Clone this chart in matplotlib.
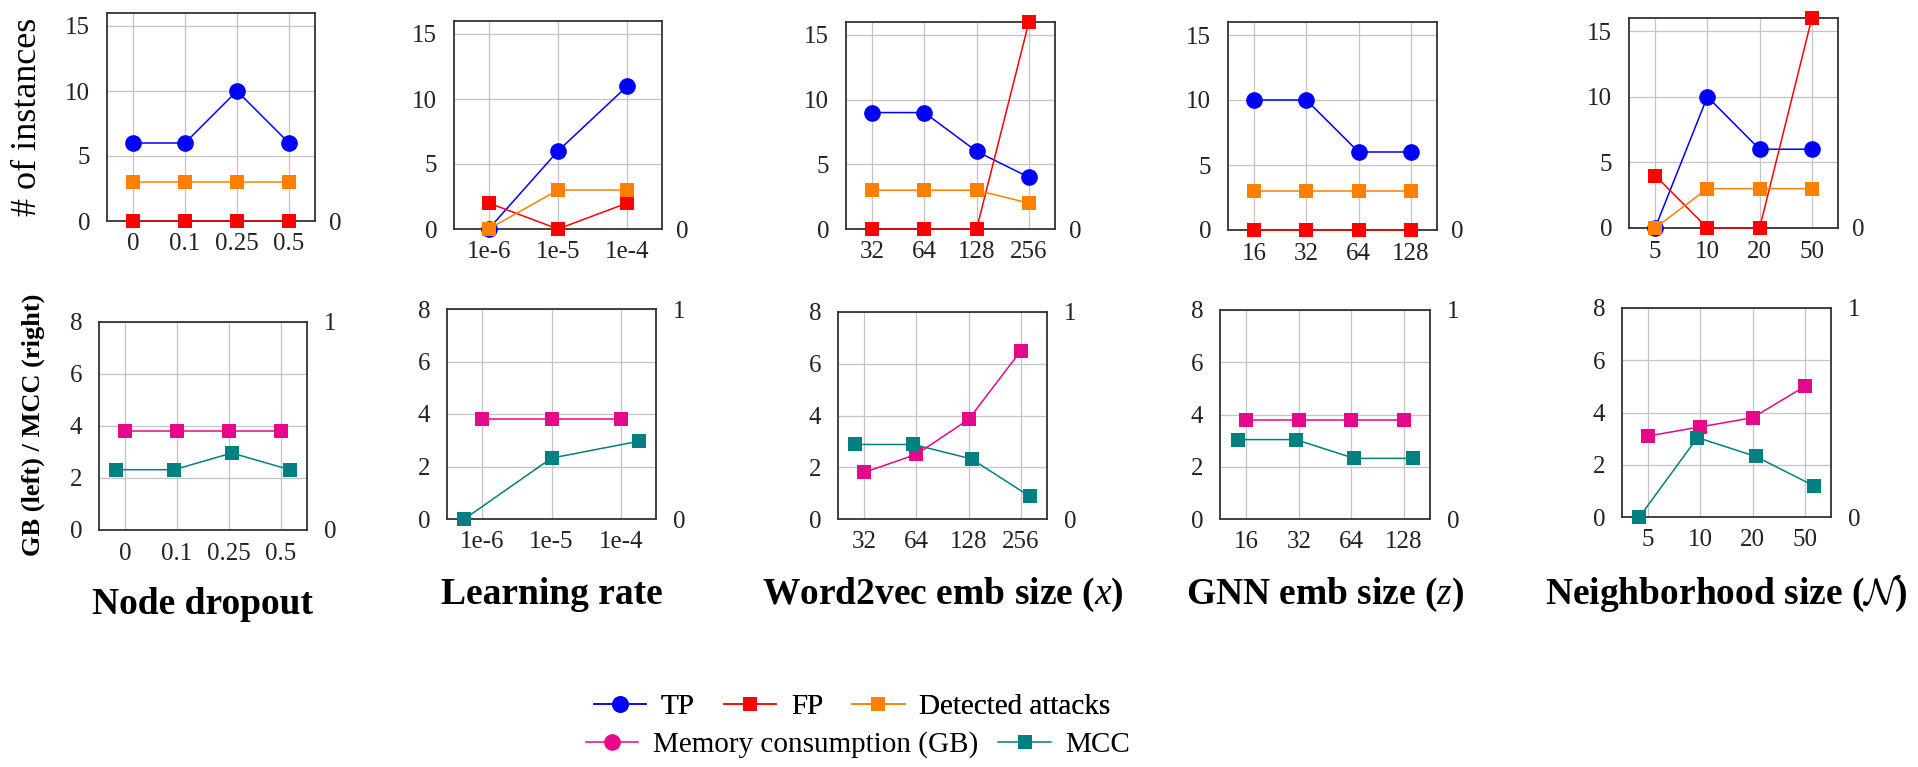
import matplotlib
matplotlib.use("Agg")
import matplotlib.pyplot as plt
from matplotlib.lines import Line2D

plt.rcParams['font.family'] = ['Liberation Serif', 'DejaVu Serif']
plt.rcParams['mathtext.fontset'] = 'custom'
plt.rcParams['mathtext.it'] = 'Liberation Serif:italic'
plt.rcParams['mathtext.rm'] = 'Liberation Serif'
plt.rcParams['mathtext.cal'] = 'cmsy10'

# ---------------- data ----------------
titles = ['Node dropout', 'Learning rate', r'Word2vec emb size ($x$)',
          r'GNN emb size ($z$)', r'Neighborhood size ($\mathcal{N}$)']

dropout_labels = ['0', '0.1', '0.25', '0.5']
lr_labels = ['1e-6', '1e-5', '1e-4']
w2v_labels = ['32', '64', '128', '256']
gnn_labels = ['16', '32', '64', '128']
nbr_labels = ['5', '10', '20', '50']

tp_dropout = [6, 6, 10, 6]
fp_dropout = [0, 0, 0, 0]
det_dropout = [3, 3, 3, 3]
tp_lr = [0, 6, 11]
fp_lr = [2, 0, 2]
det_lr = [0, 3, 3]
tp_w2v = [9, 9, 6, 4]
fp_w2v = [0, 0, 0, 16]
det_w2v = [3, 3, 3, 2]
tp_gnn = [10, 10, 6, 6]
fp_gnn = [0, 0, 0, 0]
det_gnn = [3, 3, 3, 3]
tp_nbr = [0, 10, 6, 6]
fp_nbr = [4, 0, 0, 16]
det_nbr = [0, 3, 3, 3]

mem_dropout = [3.8, 3.8, 3.8, 3.8]
mem_lr = [3.8, 3.8, 3.8]
mem_w2v = [1.8, 2.5, 3.85, 6.5]
mem_gnn = [3.8, 3.8, 3.8, 3.8]
mem_nbr = [3.1, 3.45, 3.8, 5.0]

mcc_dropout = [0.29, 0.29, 0.37, 0.29]
mcc_lr = [0.0, 0.29, 0.37]
mcc_w2v = [0.36, 0.36, 0.29, 0.11]
mcc_gnn = [0.38, 0.38, 0.29, 0.29]
mcc_nbr = [0.0, 0.38, 0.29, 0.15]

xlabels = [dropout_labels, lr_labels, w2v_labels, gnn_labels, nbr_labels]
tps = [tp_dropout, tp_lr, tp_w2v, tp_gnn, tp_nbr]
fps = [fp_dropout, fp_lr, fp_w2v, fp_gnn, fp_nbr]
dets = [det_dropout, det_lr, det_w2v, det_gnn, det_nbr]
mems = [mem_dropout, mem_lr, mem_w2v, mem_gnn, mem_nbr]
mccs = [mcc_dropout, mcc_lr, mcc_w2v, mcc_gnn, mcc_nbr]

# ---------------- style ----------------
C_TP = '#0000ff'
C_FP = '#ff0000'
C_DET = '#ff8000'
C_MEM = '#e6088a'
C_MCC = '#008080'
SPINE = '#333333'
GRID = '#c4c4c4'
TICK_FS = 18

W, H = 1918, 767
fig = plt.figure(figsize=(W / 100, H / 100), dpi=100)

def rect(x0, x1, yt, yb):
    return [x0 / W, 1 - yb / H, (x1 - x0) / W, (yb - yt) / H]

top_boxes = [(107, 315, 13, 221), (454, 662, 21, 229), (846, 1055, 22, 229),
             (1228, 1437, 22, 230), (1629, 1838, 18, 228)]
bot_boxes = [(99, 307, 322, 530), (447, 656, 309, 519), (838, 1047, 312, 519),
             (1220, 1430, 310, 519), (1622, 1831, 308, 517)]
title_base = [614, 604, 604, 604, 604]

def style_axes(ax):
    for s in ax.spines.values():
        s.set_color(SPINE)
        s.set_linewidth(1.3)
    ax.grid(True, color=GRID, linewidth=0.9)
    ax.set_axisbelow(True)
    ax.tick_params(length=0, labelsize=TICK_FS, colors='#222222')

line_kw = dict(linewidth=1.1, markeredgewidth=0, clip_on=False)

for i in range(5):
    labs = xlabels[i]
    n = len(labs)
    xs = list(range(n))

    # ---- top row ----
    ax = fig.add_axes(rect(*top_boxes[i]))
    style_axes(ax)
    ax.plot(xs, tps[i], color=C_TP, marker='o', markersize=12, zorder=3, **line_kw)
    ax.plot(xs, fps[i], color=C_FP, marker='s', markersize=10.5, zorder=4, **line_kw)
    ax.plot(xs, dets[i], color=C_DET, marker='s', markersize=10.5, zorder=5, **line_kw)
    ax.set_xlim(-0.5, n - 0.5)
    ax.set_ylim(0, 16)
    ax.set_yticks([0, 5, 10, 15])
    ax.set_xticks(xs)
    ax.set_xticklabels(labs)
    ax.tick_params(axis='y', pad=12)
    ax.tick_params(axis='x', pad=9)
    axr = ax.twinx()
    axr.set_ylim(0, 1)
    axr.set_yticks([0])
    axr.set_yticklabels(['0'])
    axr.tick_params(length=0, labelsize=TICK_FS, pad=10, colors='#222222')
    for s in axr.spines.values():
        s.set_visible(False)

    # ---- bottom row ----
    r = rect(*bot_boxes[i])
    axb = fig.add_axes(r)
    style_axes(axb)
    axb.plot(xs, mems[i], color=C_MEM, marker='s', markersize=10.5, zorder=3, **line_kw)
    axb.set_xlim(-0.5, n - 0.5)
    axb.set_ylim(0, 8)
    axb.set_yticks([0, 2, 4, 6, 8])
    axb.set_xticks(xs)
    axb.set_xticklabels(labs)
    axb.tick_params(axis='y', pad=12)
    axb.tick_params(axis='x', pad=9)

    axm = fig.add_axes(r, label='mcc%d' % i)
    axm.patch.set_visible(False)
    for s in axm.spines.values():
        s.set_visible(False)
    axm.plot(xs, mccs[i], color=C_MCC, marker='s', markersize=10.5, zorder=3, **line_kw)
    span = n - 1
    axm.set_xlim(-0.1 * span, 1.1 * span)
    axm.set_ylim(0, 1)
    axm.xaxis.set_visible(False)
    axm.yaxis.tick_right()
    axm.set_yticks([0, 1])
    axm.set_yticklabels(['0', '1'])
    axm.tick_params(length=0, labelsize=TICK_FS, pad=12, colors='#222222')

    # ---- title ----
    cx = (bot_boxes[i][0] + bot_boxes[i][1]) / 2
    fig.text(cx / W, 1 - title_base[i] / H, titles[i], ha='center', va='baseline',
             fontsize=27, fontweight='bold')

fig.text(28 / W, 1 - 117 / H, '# of instances', rotation=90, ha='center', va='center',
         fontsize=26)
fig.text(33 / W, 1 - 425 / H, 'GB (left) / MCC (right)', rotation=90, ha='center',
         va='center', fontsize=19, fontweight='bold')

# ---- legends ----
def proxy(color, marker, ms):
    return Line2D([], [], color=color, marker=marker, markersize=ms, linewidth=1.1,
                  markeredgewidth=0)

h1 = [proxy(C_TP, 'o', 12), proxy(C_FP, 's', 10.5), proxy(C_DET, 's', 10.5)]
l1 = ['TP', 'FP', 'Detected attacks']
h2 = [proxy(C_MEM, 'o', 12), proxy(C_MCC, 's', 10.5)]
l2 = ['Memory consumption (GB)', 'MCC']
leg_kw = dict(loc='center', frameon=False, fontsize=21, handlelength=1.8,
              handletextpad=0.5)
leg1 = fig.legend(h1, l1, bbox_to_anchor=(852 / W, 1 - 707 / H), ncol=3,
                  columnspacing=1.0, **leg_kw)
fig.add_artist(leg1)
fig.legend(h2, l2, bbox_to_anchor=(858 / W, 1 - 745 / H), ncol=2,
           columnspacing=0.7, **leg_kw)

fig.savefig('out.png', dpi=100, facecolor='white')
